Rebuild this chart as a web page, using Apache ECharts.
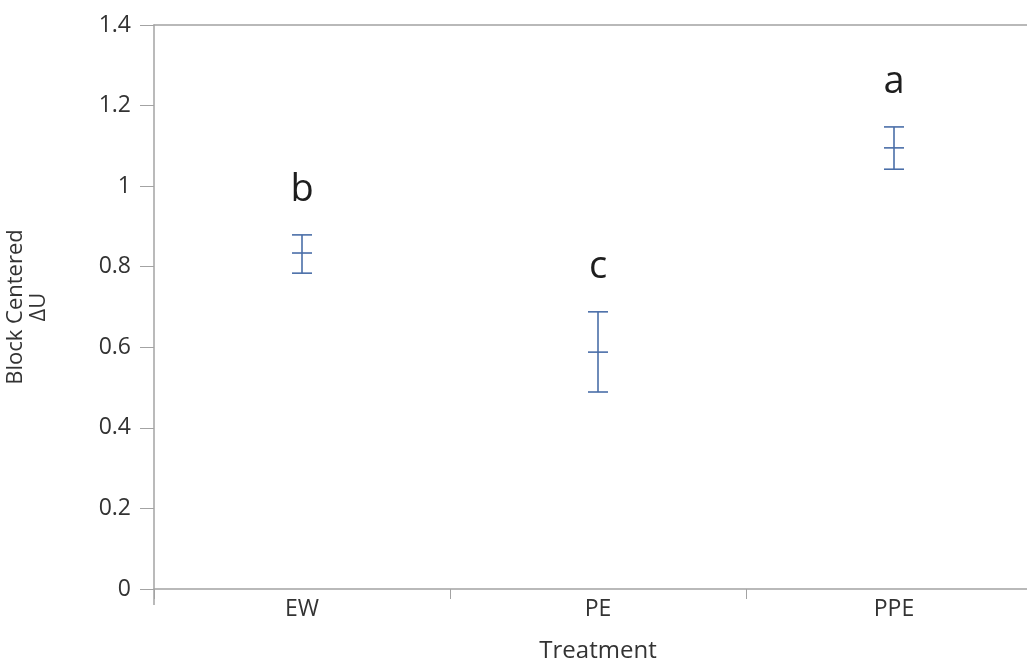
<!DOCTYPE html>
<html>
<head>
<meta charset="utf-8">
<script src="https://cdn.jsdelivr.net/npm/echarts@6/dist/echarts.min.js"></script>
<style>
  html, body { margin: 0; padding: 0; background: #ffffff; }
  #chart { width: 1027px; height: 665px; }
</style>
</head>
<body>
<div id="chart"></div>
<script>
// Treatment groups and their block-centered ΔU estimates with interval bounds
const categories = ['EW', 'PE', 'PPE'];
const means = [0.834, 0.588, 1.095];
const lower = [0.784, 0.489, 1.042];
const upper = [0.879, 0.688, 1.147];
const groupLetters = ['b', 'c', 'a'];
const yTicks = [0, 0.2, 0.4, 0.6, 0.8, 1, 1.2, 1.4];

const FONT = '"Open Sans", "Noto Sans", sans-serif';
const AXIS_COLOR = '#a3a3a3';
const TEXT_COLOR = '#333333';
const BAR_COLOR = '#4a6ea8';

const chart = echarts.init(document.getElementById('chart'));

const seriesData = categories.map((c, i) => [i, lower[i], means[i], upper[i], groupLetters[i]]);

function renderErrorBar(params, api) {
  const x = api.value(0);
  const lo = api.coord([x, api.value(1)]);
  const mid = api.coord([x, api.value(2)]);
  const hi = api.coord([x, api.value(3)]);
  const half = 10;
  const style = { stroke: BAR_COLOR, lineWidth: 1.6 };
  return {
    type: 'group',
    children: [
      { type: 'line', shape: { x1: hi[0], y1: hi[1], x2: lo[0], y2: lo[1] }, style },
      { type: 'line', shape: { x1: hi[0] - half, y1: hi[1], x2: hi[0] + half, y2: hi[1] }, style },
      { type: 'line', shape: { x1: lo[0] - half, y1: lo[1], x2: lo[0] + half, y2: lo[1] }, style },
      { type: 'line', shape: { x1: mid[0] - half, y1: mid[1], x2: mid[0] + half, y2: mid[1] }, style },
      {
        type: 'text',
        style: {
          text: api.value(4),
          x: hi[0],
          y: hi[1] - 26,
          align: 'center',
          verticalAlign: 'bottom',
          fontFamily: FONT,
          fontSize: 38,
          fill: '#1e1e1e'
        }
      }
    ]
  };
}

chart.setOption({
  animation: false,
  backgroundColor: '#ffffff',
  grid: {
    left: 154, right: -15, top: 25, bottom: 76,
    containLabel: false,
    outerBoundsMode: 'none'
  },
  xAxis: [
    {
      type: 'category',
      data: categories,
      boundaryGap: true,
      name: 'Treatment',
      nameLocation: 'middle',
      nameGap: 50,
      nameTextStyle: { fontFamily: FONT, fontSize: 24, color: TEXT_COLOR },
      axisLine: { lineStyle: { color: AXIS_COLOR, width: 1.5 } },
      axisTick: { show: true, length: 10, lineStyle: { color: AXIS_COLOR } },
      axisLabel: { fontFamily: FONT, fontSize: 23, color: TEXT_COLOR, margin: 9 },
      splitLine: { show: false }
    },
    {
      type: 'category',
      data: categories,
      position: 'top',
      axisLine: { lineStyle: { color: AXIS_COLOR, width: 1.5 } },
      axisTick: { show: false },
      axisLabel: { show: false },
      splitLine: { show: false }
    }
  ],
  yAxis: {
    type: 'value',
    min: yTicks[0],
    max: yTicks[yTicks.length - 1],
    interval: 0.2,
    name: 'Block Centered\nΔU',
    nameLocation: 'middle',
    nameRotate: 90,
    nameGap: 104,
    nameTextStyle: { fontFamily: FONT, fontSize: 22, color: TEXT_COLOR, lineHeight: 23, align: 'center' },
    axisLine: { show: true, lineStyle: { color: AXIS_COLOR, width: 1.5 } },
    axisTick: { show: true, length: 14, lineStyle: { color: AXIS_COLOR } },
    axisLabel: {
      fontFamily: FONT, fontSize: 23, color: TEXT_COLOR, margin: 23,
      formatter: v => String(Math.round(v * 10) / 10)
    },
    splitLine: { show: false }
  },
  series: [{
    type: 'custom',
    renderItem: renderErrorBar,
    data: seriesData,
    encode: { x: 0, y: [1, 2, 3] },
    clip: false,
    z: 5
  }]
});

// Extend the left frame line a little below the x axis
const origin = chart.convertToPixel({ xAxisIndex: 0, yAxisIndex: 0 }, [0, 0]);
const axisX = chart.convertToPixel({ xAxisIndex: 0 }, 0) - chart.getModel().getComponent('xAxis', 0).axis.getBandWidth() / 2;
chart.setOption({
  graphic: [{
    type: 'line',
    shape: { x1: axisX, y1: origin[1], x2: axisX, y2: origin[1] + 16 },
    style: { stroke: AXIS_COLOR, lineWidth: 1.5 },
    silent: true
  }]
});
</script>
</body>
</html>
